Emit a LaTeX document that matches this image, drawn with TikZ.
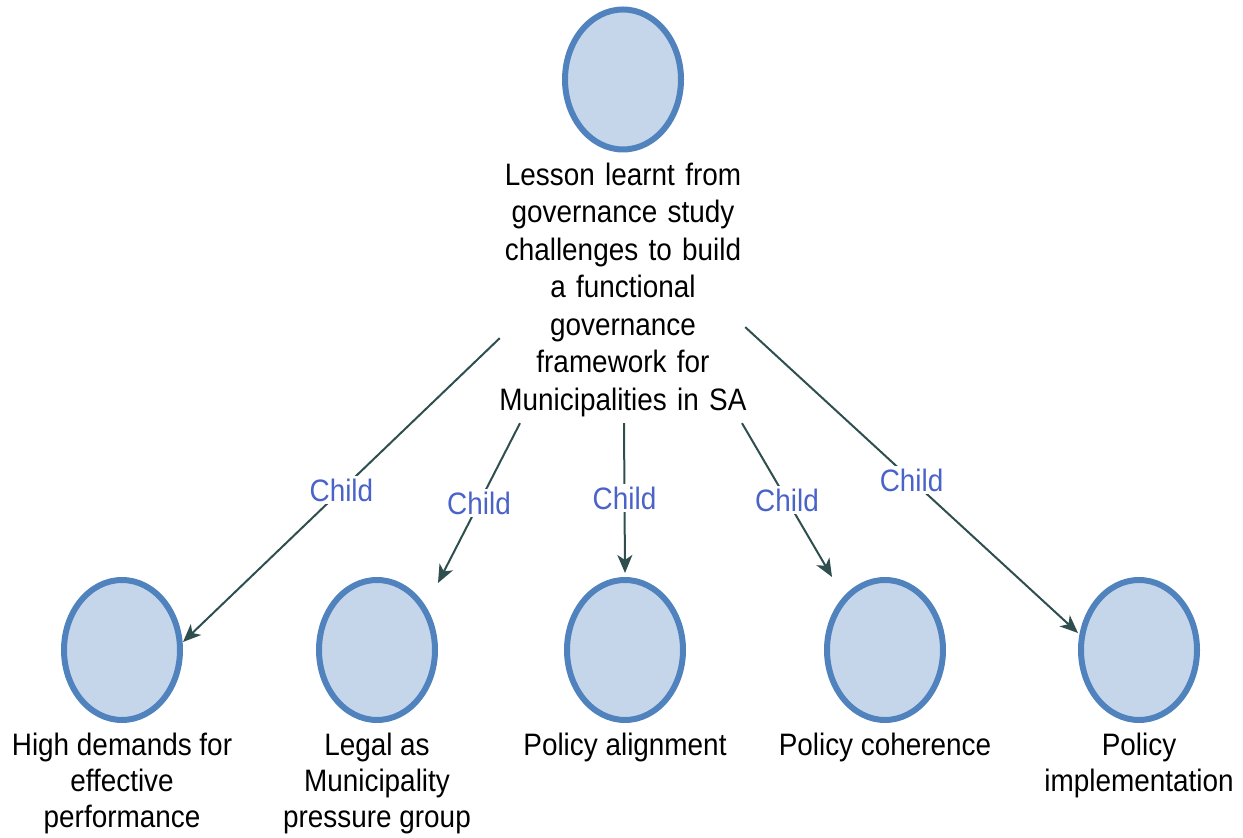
\documentclass[tikz,border=0pt]{standalone}
\usepackage{fontspec}
\setmainfont{Liberation Sans}[FakeStretch=0.9]
\usetikzlibrary{arrows.meta,shapes.geometric}
\definecolor{cfill}{HTML}{C5D6EA}
\definecolor{cline}{HTML}{5082BE}
\definecolor{arr}{HTML}{2F4F4F}
\definecolor{lbl}{HTML}{4A63C8}
\begin{document}
\begin{tikzpicture}[x=1pt,y=1pt,
  bubble/.style={ellipse, draw=cline, fill=cfill, line width=6pt, minimum width=116pt, minimum height=140pt, inner sep=0pt},
  toptxt/.style={font=\fontsize{31}{37.5}\selectfont, align=center, text width=260pt, inner sep=0pt, anchor=north},
  bottxt/.style={font=\fontsize{31}{36}\selectfont, align=center, inner sep=0pt, anchor=north},
  childedge/.style={draw=arr, line width=2pt, -{Stealth[length=18pt,width=15pt,inset=5pt]}},
  elabel/.style={font=\fontsize{31}{34}\selectfont, text=lbl, fill=white, inner sep=3pt}
]
\useasboundingbox (0,0) rectangle (1243,838);
\clip (0,0) rectangle (1243,838);

% top
\node[bubble] (c0) at (623,758.5) {};
\node[toptxt] (t) at (623,675.6) {Lesson learnt from\\governance study\\challenges to build\\a functional\\governance\\framework for\\Municipalities in SA};

% bottom circles
\node[bubble] (c1) at (122,188) {};
\node[bubble] (c2) at (377,188) {};
\node[bubble] (c3) at (625,188) {};
\node[bubble] (c4) at (885,188) {};
\node[bubble] (c5) at (1139,188) {};

% bottom labels
\node[bottxt] (l1) at (122,105.6) {High demands for\\effective\\performance};
\node[bottxt] (l2) at (377,105.6) {Legal as\\Municipality\\pressure group};
\node[bottxt] (l3) at (625,105.6) {Policy alignment};
\node[bottxt] (l4) at (885,105.6) {Policy coherence};
\node[bottxt] (l5) at (1139,105.6) {Policy\\implementation};

% connectors
\draw[childedge] ([shift={(7,-48.55)}]t.west) -- node[elabel] {Child} ([shift={(61,8)}]c1.center);
\draw[childedge] ([shift={(-103,-6.5)}]t.south) -- node[elabel] {Child} ([shift={(61,67)}]c2.center);
\draw[childedge] ([shift={(1,-6.5)}]t.south) -- node[elabel] {Child} ([yshift=4pt]c3.north);
\draw[childedge] ([shift={(119,-6.5)}]t.south) -- node[elabel] {Child} ([shift={(-53,73)}]c4.center);
\draw[childedge] ([shift={(-8,-37.55)}]t.east) -- node[elabel] {Child} ([shift={(-61,17)}]c5.center);
\end{tikzpicture}
\end{document}
